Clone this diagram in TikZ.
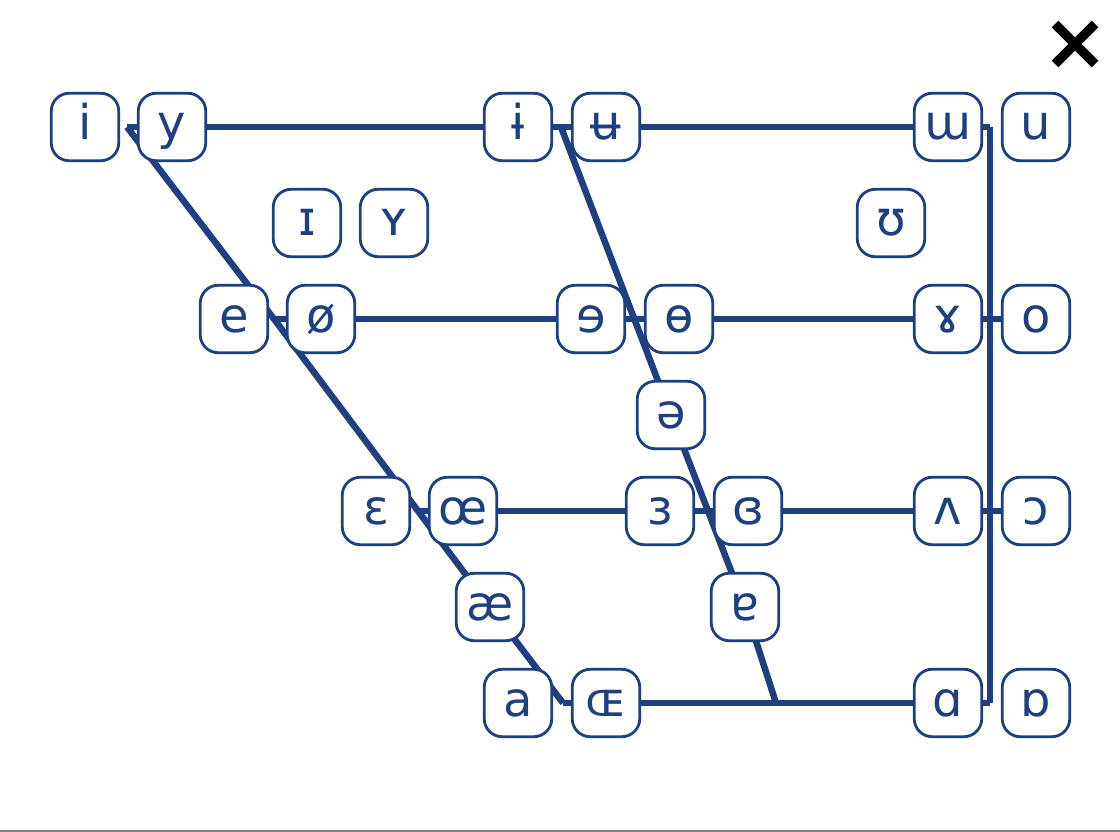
\documentclass[tikz,border=0pt]{standalone}
\usepackage{fontspec}
\setmainfont{DejaVu Sans}
\usetikzlibrary{backgrounds}
\definecolor{navy}{RGB}{30,64,128}
\begin{document}
\begin{tikzpicture}[x=1pt,y=-1pt,
  vowel/.style={draw=navy, line width=2.8pt, fill=white, rounded corners=18pt,
    minimum width=67.5pt, minimum height=67.5pt, inner sep=0pt, text=navy,
    font=\fontsize{48}{48}\selectfont, text height=26pt, text depth=0pt},
  chartline/.style={draw=navy, line width=6.5pt},
  closemark/.style={draw=black, line width=9.5pt}]
\useasboundingbox (0,0) rectangle (1120,832);
% frame coordinates
\coordinate (ftop) at (127,127);
\coordinate (f2) at (274,319);
\coordinate (f3) at (418,511);
\coordinate (fbot) at (563,703);
\coordinate (ctop) at (561,127);
\coordinate (cbot) at (776,703);
\coordinate (btop) at (990,127);
\coordinate (bbot) at (990,703);
% vowels
\node[vowel] (i) at (85,127) {i};
\node[vowel] (y) at (172,127) {y};
\node[vowel] (ibar) at (518,127) {ɨ};
\node[vowel] (ubar) at (606,127) {ʉ};
\node[vowel] (wturn) at (948,127) {ɯ};
\node[vowel] (u) at (1036,127) {u};
\node[vowel] (Ismall) at (307,223) {ɪ};
\node[vowel] (Ysmall) at (394,223) {ʏ};
\node[vowel] (upsilon) at (891,223) {ʊ};
\node[vowel] (e) at (234,319) {e};
\node[vowel] (oslash) at (321,319) {ø};
\node[vowel] (erev) at (591,319) {ɘ};
\node[vowel] (obar) at (679,319) {ɵ};
\node[vowel] (ramshorn) at (948,319) {ɤ};
\node[vowel] (o) at (1036,319) {o};
\node[vowel] (schwa) at (671,415) {ə};
\node[vowel] (epsilon) at (376,511) {ɛ};
\node[vowel] (oe) at (463,511) {œ};
\node[vowel] (epsrev) at (660,511) {ɜ};
\node[vowel] (epsclosed) at (748,511) {ɞ};
\node[vowel] (vturn) at (948,511) {ʌ};
\node[vowel] (oopen) at (1036,511) {ɔ};
\node[vowel] (ae) at (490,607) {æ};
\node[vowel] (aturn) at (745,607) {ɐ};
\node[vowel] (a) at (518,703) {a};
\node[vowel] (OE) at (606,703) {ɶ};
\node[vowel] (alpha) at (948,703) {ɑ};
\node[vowel] (alphaturn) at (1036,703) {ɒ};
% chart lines behind the vowels
\begin{scope}[on background layer]
  \draw[chartline] (ftop) -- (f2) -- (f3) -- (ae.center) -- (fbot);
  \draw[chartline] (ctop) -- (schwa.center) -- (aturn.center) -- (cbot);
  \draw[chartline] (btop) -- (bbot);
  \draw[chartline] (ftop) -- (y) -- (ibar) -- (ubar) -- (wturn) -- (btop);
  \draw[chartline] (f2) -- (oslash) -- (erev) -- (obar) -- (ramshorn) -- (o);
  \draw[chartline] (f3) -- (oe) -- (epsrev) -- (epsclosed) -- (vturn) -- (oopen);
  \draw[chartline] (fbot) -- (OE) -- (alpha) -- (bbot);
\end{scope}
% close mark
\coordinate (xa) at (1055,24);
\coordinate (xb) at (1095,64);
\coordinate (xc) at (1095,24);
\coordinate (xd) at (1055,64);
\draw[closemark] (xa) -- (xb);
\draw[closemark] (xc) -- (xd);
% bottom rule
\coordinate (rl) at (0,831.2);
\coordinate (rr) at (1120,831.2);
\draw[draw=gray, line width=1.6pt] (rl) -- (rr);
\end{tikzpicture}
\end{document}
